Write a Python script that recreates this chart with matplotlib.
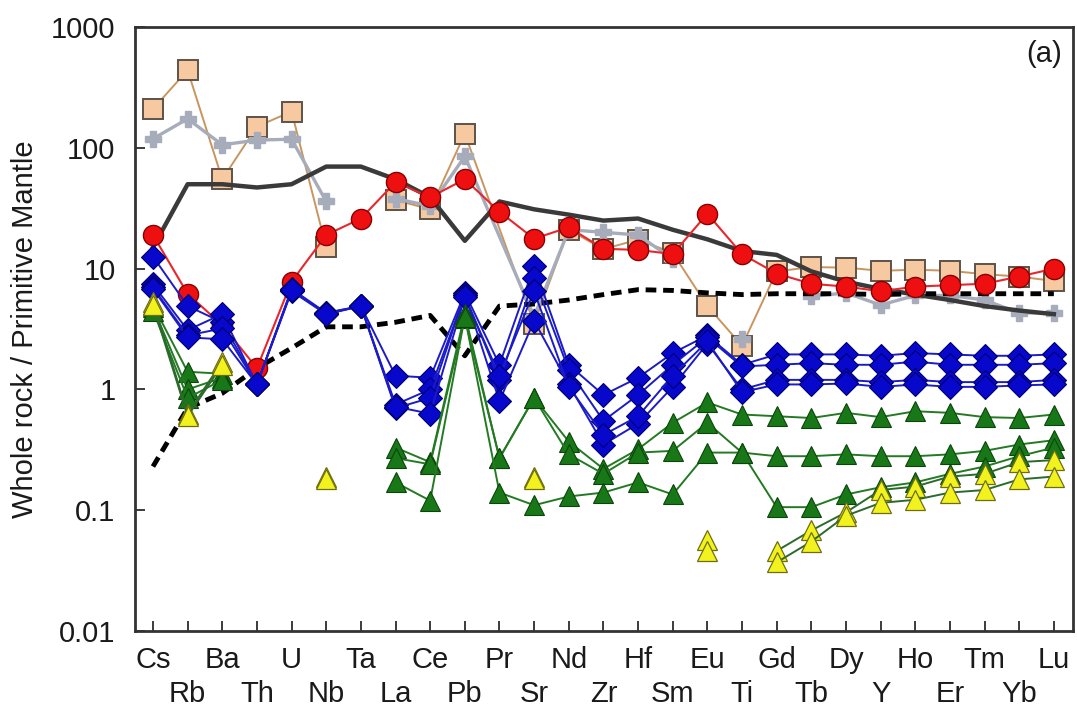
import numpy as np
import matplotlib
matplotlib.use("Agg")
import matplotlib.pyplot as plt

plt.rcParams['font.family'] = ['Liberation Sans', 'DejaVu Sans']

nan = np.nan

# element order on the x axis
elements = ['Cs', 'Rb', 'Ba', 'Th', 'U', 'Nb', 'Ta', 'La', 'Ce', 'Pb', 'Pr', 'Sr', 'Nd', 'Zr',
            'Hf', 'Sm', 'Eu', 'Ti', 'Gd', 'Tb', 'Dy', 'Y', 'Ho', 'Er', 'Tm', 'Yb', 'Lu']

# reference patterns
oib = [15, 50, 50, 47, 50, 70, 70, 55, 39, 17, 36, 31, 28, 25, 26, 21, 17.5, 14, 13,
       9.5, 7.8, 6.8, 6.1, 5.5, 4.9, 4.5, 4.2]
nmorb = [0.23, 0.7, 0.93, 1.5, 2.2, 3.3, 3.3, 3.6, 4.1, 1.9, 4.9, 5.1, 5.5, 6.1, 6.7, 6.6,
         6.3, 6.1, 6.2, 6.2, 6.2, 6.1, 6.2, 6.2, 6.2, 6.2, 6.2]

# tan squares
tan = [210, 440, 55, 150, 200, 15, nan, 37, 31, 131, nan, 3.5, 21, 14.5, 17.4, 13.5, 4.9,
       2.3, 9.5, 10.3, 10.2, 9.6, 9.8, 9.6, 9.0, 8.6, 7.9]
# grey stars
grey = [119, 174, 106, 116, 118, 36, nan, 38, 33, 85, nan, 4.0, 21, 20, 19, 12, nan,
        2.6, nan, 5.9, 6.3, 5.0, 6.0, 6.0, 5.5, 4.3, 4.3]
# red circles
red = [19, 6.2, 3.4, 1.5, 7.8, 19, 26, 52, 39, 55, 29.6, 17.7, 22, 14.6, 14.3, 13.2, 28.5,
       13.2, 9.1, 7.5, 7.1, 6.5, 7.1, 7.3, 7.5, 8.6, 10]

# blue diamonds
blue1 = [12.6, 4.9, 3.6, 1.1, 6.8, 4.3, 4.9, 1.3, 1.25, 6.3, 1.6, 10.5, 1.6, 0.9, 1.25, 2.0,
         2.8, 1.6, 1.95, 1.95, 1.95, 1.9, 2.0, 1.95, 1.9, 1.9, 1.95]
blue2 = [7.4, 3.1, 4.2, 1.1, 6.5, 4.2, 4.9, 0.75, 1.0, 6.0, 1.2, 8.3, 1.45, 0.55, 0.9, 1.6,
         2.7, 1.55, 1.6, 1.65, 1.6, 1.6, 1.7, 1.6, 1.6, 1.6, 1.65]
blue3 = [7.0, 2.8, 3.2, 1.1, 6.6, 4.3, 4.9, 0.7, 0.85, 6.1, 0.8, 3.7, 1.1, 0.35, 0.52, 1.05,
         2.4, 1.0, 1.2, 1.2, 1.2, 1.15, 1.2, 1.15, 1.15, 1.15, 1.2]
blue4 = [6.8, 2.7, 2.6, 1.1, 6.7, 4.2, 4.9, 0.72, 0.63, 5.8, 1.3, 6.5, 1.05, 0.42, 0.6, 1.3,
         2.5, 0.95, 1.1, 1.1, 1.12, 1.05, 1.1, 1.05, 1.05, 1.08, 1.1]

# green triangles
green1 = [5.0, 1.4, 1.35, nan, nan, nan, nan, 0.33, 0.25, 4.2, 0.27, 0.85, 0.37, 0.22, 0.32,
          0.53, 0.78, 0.62, 0.6, 0.58, 0.64, 0.59, 0.66, 0.64, 0.59, 0.58, 0.62]
green2 = [4.8, 1.0, 1.25, nan, nan, nan, nan, 0.27, 0.24, 3.9, 0.27, 0.85, 0.29, 0.2, 0.3,
          0.31, 0.53, 0.3, 0.28, 0.28, 0.29, 0.28, 0.28, 0.29, 0.31, 0.35, 0.38]
green3 = [4.5, 0.85, 1.2, nan, nan, nan, nan, 0.17, 0.12, 4.0, 0.14, 0.11, 0.13, 0.14, 0.17,
          0.135, 0.3, 0.3, 0.106, 0.106, 0.135, 0.155, 0.17, 0.2, 0.23, 0.28, 0.33]

# yellow triangles
yellow1 = [5.3, 0.63, 1.7, nan, nan, 0.19, nan, nan, nan, nan, nan, 0.19, nan, nan, nan, nan,
           0.057, nan, 0.046, 0.068, 0.096, 0.147, 0.157, 0.19, 0.2, 0.25, 0.26]
yellow2 = [5.0, 0.6, 1.6, nan, nan, 0.18, nan, nan, nan, nan, nan, 0.18, nan, nan, nan, nan,
           0.046, nan, 0.037, 0.055, 0.09, 0.115, 0.122, 0.14, 0.147, 0.18, 0.19]

x = np.arange(len(elements))
skip = elements.index('Pr')   # these two series are joined across the missing Pr

fig = plt.figure(figsize=(10.77, 7.13), dpi=100)
ax = fig.add_axes([0.1253, 0.115, 0.8709, 0.847])


def joined(vals, line_kw, mark_kw):
    v = np.array(vals, dtype=float)
    keep = ~np.isnan(v) | (x != skip)
    ax.plot(x[keep], v[keep], **line_kw)
    ax.plot(x, v, ls='none', **mark_kw)


joined(tan, dict(color='#c9955f', lw=1.4, zorder=3),
       dict(marker='s', ms=15, mfc='#f7c9a0', mec='#5e5248', mew=1.4, zorder=3))
joined(grey, dict(color='#a6acba', lw=2.4, zorder=3),
       dict(marker='P', ms=12, mfc='#a6acba', mec='#a6acba', zorder=3))

ax.plot(x, oib, color='#3a3a3a', lw=3.2, zorder=4)
ax.plot(x, nmorb, color='black', lw=3.5, ls=(0, (2.2, 1.4)), zorder=4)

ax.plot(x, red, color='#e8262b', lw=1.5, marker='o', ms=14.5, mfc='#ee1010', mec='#8a0000',
        mew=1.0, zorder=5)

for b in [blue1, blue2, blue3, blue4]:
    ax.plot(x, b, color='#1b1bc8', lw=1.4, marker='D', ms=12.5, mfc='#0808cc', mec='#00006e',
            mew=0.8, zorder=6)

for g in [green1, green2, green3]:
    ax.plot(x, g, color='#237a23', lw=1.4, marker='^', ms=15, mfc='#187818', mec='#0b450b',
            mew=0.8, zorder=7)

for yv in [yellow1, yellow2]:
    ax.plot(x, yv, color='#2c6a2c', lw=1.4, marker='^', ms=15, mfc='#f2f21e', mec='#6e6e10',
            mew=0.9, zorder=8)

ax.set_yscale('log')
ax.set_ylim(0.01, 1000)
ax.set_xlim(-0.52, 26.55)

ax.set_yticks([0.01, 0.1, 1, 10, 100, 1000])
ax.set_yticklabels(['0.01', '0.1', '1', '10', '100', '1000'])
ax.yaxis.set_minor_locator(matplotlib.ticker.NullLocator())

ax.set_xticks(x)
ax.set_xticklabels(elements)

ax.tick_params(axis='both', direction='in', labelsize=21, colors='#1a1a1a', width=1.2)
ax.tick_params(axis='x', length=7, pad=11)
ax.tick_params(axis='y', length=7, pad=14)

# every other element label goes on a second row
for i, t in enumerate(ax.xaxis.get_major_ticks()):
    if i % 2 == 1:
        t.set_pad(35)

for s in ax.spines.values():
    s.set_linewidth(2)
    s.set_color('#333333')

ax.set_ylabel('Whole rock / Primitive Mantle', fontsize=21, color='#1a1a1a', labelpad=9)
ax.text(0.988, 0.978, '(a)', transform=ax.transAxes, ha='right', va='top', fontsize=21,
        color='#1a1a1a')

fig.savefig('out.png', dpi=100)
